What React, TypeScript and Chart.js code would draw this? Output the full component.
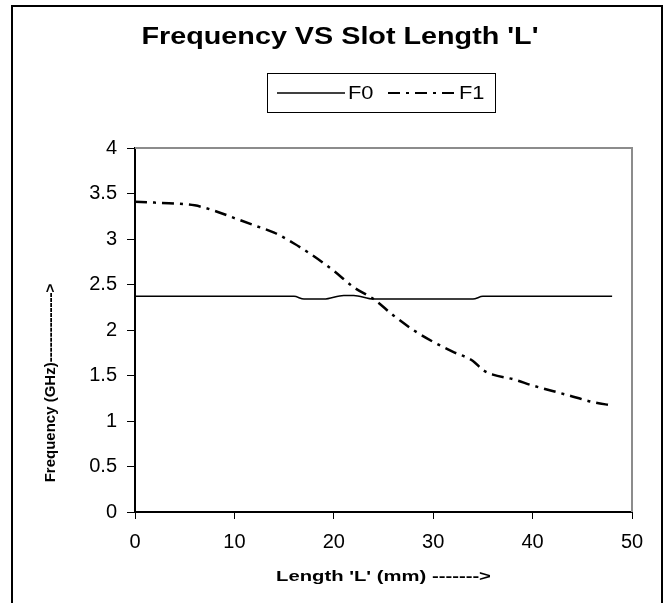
import React, { useEffect, useRef } from "react";
import { Chart, registerables } from "chart.js";

Chart.register(...registerables);

// ---- data ----
const lengthF0 = [0, 4, 8, 12, 16, 17, 19, 21, 22, 24, 28, 32, 34, 35, 40, 44, 48];
const freqF0 = [2.37, 2.37, 2.37, 2.37, 2.37, 2.34, 2.34, 2.38, 2.38, 2.34, 2.34, 2.34, 2.34, 2.37, 2.37, 2.37, 2.37];

const lengthF1 = [0, 2, 4, 6, 8, 10, 12, 14, 16, 18, 20, 22, 24, 26, 28, 30, 32, 34, 35, 36, 38, 40, 42, 44, 46, 48];
const freqF1 = [3.41, 3.4, 3.39, 3.37, 3.31, 3.23, 3.15, 3.07, 2.95, 2.81, 2.65, 2.47, 2.34, 2.16, 2.0, 1.87, 1.76, 1.66, 1.56, 1.51, 1.46, 1.39, 1.33, 1.27, 1.21, 1.17];

const seriesNames = ["F0", "F1"];
const chartTitle = "Frequency VS Slot Length 'L'";
const xTitle = "Length 'L' (mm) ------->";
const yTitle = "Frequency (GHz)-------------->";
const xRange = [0, 50];
const yRange = [0, 4];
const xStep = 10;
const yStep = 0.5;

const F1_DASH = [12, 6, 3, 6];

function stretchText(
  ctx: CanvasRenderingContext2D,
  text: string,
  x: number,
  y: number,
  font: string,
  sx: number,
  align: CanvasTextAlign,
  baseline: CanvasTextBaseline
) {
  ctx.save();
  ctx.translate(x, y);
  ctx.scale(sx, 1);
  ctx.font = font;
  ctx.fillStyle = "#000";
  ctx.textAlign = align;
  ctx.textBaseline = baseline;
  ctx.fillText(text, 0, 0);
  ctx.restore();
}

const decorPlugin = {
  id: "decor",
  beforeDraw(chart: any) {
    const ctx = chart.ctx as CanvasRenderingContext2D;
    ctx.save();
    ctx.fillStyle = "#fff";
    ctx.fillRect(0, 0, chart.width, chart.height);
    ctx.strokeStyle = "#000";
    ctx.lineWidth = 2;
    ctx.strokeRect(12, 6, 650, 640);
    ctx.restore();
  },
  beforeDatasetsDraw(chart: any) {
    const ctx = chart.ctx as CanvasRenderingContext2D;
    const a = chart.chartArea;
    ctx.save();
    ctx.strokeStyle = "#8c8c8c";
    ctx.lineWidth = 2;
    ctx.beginPath();
    ctx.moveTo(a.left, a.top);
    ctx.lineTo(a.right, a.top);
    ctx.lineTo(a.right, a.bottom);
    ctx.stroke();
    ctx.restore();
  },
  afterDraw(chart: any) {
    const ctx = chart.ctx as CanvasRenderingContext2D;
    const a = chart.chartArea;
    // title
    stretchText(ctx, chartTitle, 340, 44, "bold 23px 'Liberation Sans', Arial, sans-serif", 1.25, "center", "alphabetic");

    // legend box
    ctx.save();
    ctx.strokeStyle = "#000";
    ctx.lineWidth = 1;
    ctx.strokeRect(267.5, 73.5, 228, 39);
    const ds0 = chart.data.datasets[0];
    const ds1 = chart.data.datasets[1];
    ctx.strokeStyle = ds0.borderColor;
    ctx.lineWidth = ds0.borderWidth;
    ctx.setLineDash([]);
    ctx.beginPath();
    ctx.moveTo(277, 93);
    ctx.lineTo(345, 93);
    ctx.stroke();
    ctx.strokeStyle = ds1.borderColor;
    ctx.lineWidth = 2;
    ctx.setLineDash(ds1.borderDash);
    ctx.beginPath();
    ctx.moveTo(388, 93);
    ctx.lineTo(457, 93);
    ctx.stroke();
    ctx.restore();
    stretchText(ctx, seriesNames[0], 348, 94, "19px 'Liberation Sans', Arial, sans-serif", 1.15, "left", "middle");
    stretchText(ctx, seriesNames[1], 459, 94, "19px 'Liberation Sans', Arial, sans-serif", 1.15, "left", "middle");

    // x-axis title
    stretchText(ctx, xTitle, (a.left + a.right) / 2, 577, "bold 15px 'Liberation Sans', Arial, sans-serif", 1.35, "center", "middle");

    // y-axis title
    ctx.save();
    ctx.translate(51, 383);
    ctx.rotate(-Math.PI / 2);
    ctx.font = "bold 15px 'Liberation Sans', Arial, sans-serif";
    ctx.fillStyle = "#000";
    ctx.textAlign = "center";
    ctx.textBaseline = "middle";
    ctx.fillText(yTitle, 0, 0);
    ctx.restore();
  },
};

export default function App() {
  const canvasRef = useRef<HTMLCanvasElement | null>(null);

  useEffect(() => {
    const canvas = canvasRef.current;
    if (!canvas) return;
    const tickFont = { family: "'Liberation Sans', Arial, sans-serif", size: 20 };
    const fmt = (v: any) => `${+v}`;
    const chart = new Chart(canvas, {
      type: "line",
      data: {
        datasets: [
          {
            label: seriesNames[0],
            data: lengthF0.map((x, i) => ({ x, y: freqF0[i] })),
            borderColor: "#000",
            borderWidth: 1.5,
            pointRadius: 0,
            fill: false,
            cubicInterpolationMode: "monotone",
          },
          {
            label: seriesNames[1],
            data: lengthF1.map((x, i) => ({ x, y: freqF1[i] })),
            borderColor: "#000",
            borderWidth: 2.5,
            borderDash: F1_DASH,
            pointRadius: 0,
            fill: false,
            cubicInterpolationMode: "monotone",
          },
        ],
      },
      options: {
        responsive: false,
        animation: false,
        devicePixelRatio: 1,
        layout: { padding: { left: 0, top: 148, right: 38, bottom: 0 } },
        plugins: {
          legend: { display: false },
          title: { display: false },
          tooltip: { enabled: false },
        },
        scales: {
          x: {
            type: "linear",
            min: xRange[0],
            max: xRange[1],
            ticks: { stepSize: xStep, color: "#000", font: tickFont, padding: 11, maxRotation: 0, autoSkip: false, callback: fmt },
            grid: { drawOnChartArea: false, drawTicks: true, tickLength: 7, color: "#000", lineWidth: 1 },
            border: { display: true, color: "#000", width: 2 },
            afterFit: (s: any) => {
              s.height = 91;
            },
          },
          y: {
            type: "linear",
            min: yRange[0],
            max: yRange[1],
            ticks: { stepSize: yStep, color: "#000", font: tickFont, padding: 10, autoSkip: false, callback: fmt },
            grid: { drawOnChartArea: false, drawTicks: true, tickLength: 8, color: "#000", lineWidth: 1 },
            border: { display: true, color: "#000", width: 2 },
            afterFit: (s: any) => {
              s.width = 135;
            },
          },
        },
      },
      plugins: [decorPlugin],
    });
    return () => chart.destroy();
  }, []);

  return (
    <div style={{ position: "absolute", left: 0, top: 0, width: 670, height: 603 }}>
      <canvas ref={canvasRef} width={670} height={603} style={{ display: "block" }} />
    </div>
  );
}
